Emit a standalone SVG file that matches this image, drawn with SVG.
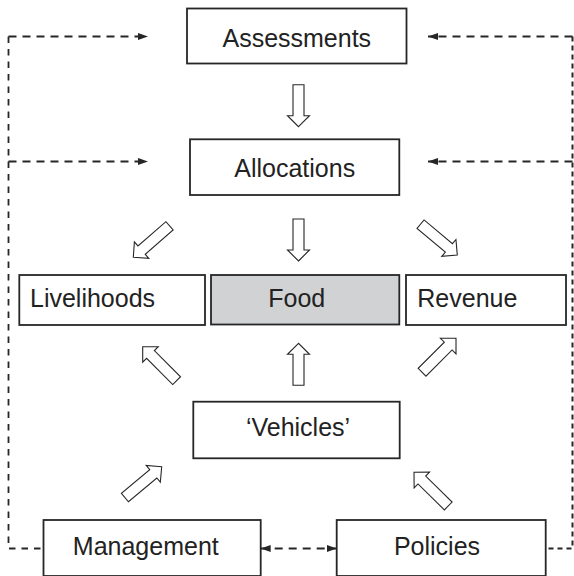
<svg xmlns="http://www.w3.org/2000/svg" xmlns:xlink="http://www.w3.org/1999/xlink" width="574" height="576" viewBox="0 0 574 576">
  <style>
    .box { fill: #ffffff; stroke: #262626; stroke-width: 1.8; }
    .food { fill: #d1d2d4; }
    .label { font-family: "Liberation Sans", Arial, Helvetica, sans-serif; font-size: 25px; fill: #222222; }
    .mid { text-anchor: middle; }
    .flow { fill: #ffffff; stroke: #262626; stroke-width: 1.1; stroke-linejoin: miter; }
    .dash { fill: none; stroke: #262626; stroke-width: 2; stroke-dasharray: 8 6; }
    .dash-v { fill: none; stroke: #262626; stroke-width: 1.8; stroke-dasharray: 6.5 6; }
    .dash-r { fill: none; stroke: #262626; stroke-width: 2; stroke-dasharray: 5 4; }
  </style>
  <defs>
    <!-- hollow block arrows, tip at the origin, pointing along +x -->
    <path id="block-short" d="M0,0 L-11,-11 L-11,-5.5 L-42,-5.5 L-42,5.5 L-11,5.5 L-11,11 Z"/>
    <path id="block-long" d="M0,0 L-11,-11 L-11,-5.5 L-48,-5.5 L-48,5.5 L-11,5.5 L-11,11 Z"/>
    <marker id="head" markerUnits="userSpaceOnUse" markerWidth="11" markerHeight="8" refX="10" refY="3.5" orient="auto-start-reverse">
      <path d="M0,0 L10,3.5 L0,7 Z" fill="#262626"/>
    </marker>
  </defs>

  <!-- feedback loops (dashed) -->
  <g id="connectors">
    <path class="dash-v" d="M8.5,36.5 V548.5 H43.5"/>
    <path class="dash" d="M8.5,36.5 H148" marker-end="url(#head)"/>
    <path class="dash" d="M8.5,161.5 H148" marker-end="url(#head)"/>
    <path class="dash-r" d="M572.5,36.5 V548.5 H545.7"/>
    <path class="dash" d="M572.5,36.5 H428" marker-end="url(#head)"/>
    <path class="dash" d="M572.5,161.5 H428" marker-end="url(#head)"/>
    <path class="dash" d="M260.7,548.5 H336.7" marker-start="url(#head)" marker-end="url(#head)"/>

    <!-- block arrows -->
    <use xlink:href="#block-short" class="flow" transform="translate(298.5,126.7) rotate(90)"/>
    <use xlink:href="#block-short" class="flow" transform="translate(298.5,261) rotate(90)"/>
    <use xlink:href="#block-short" class="flow" transform="translate(298.5,343.3) rotate(-90)"/>
    <use xlink:href="#block-long" class="flow" transform="translate(133.3,257.3) rotate(139)"/>
    <use xlink:href="#block-long" class="flow" transform="translate(457.3,255) rotate(40)"/>
    <use xlink:href="#block-long" class="flow" transform="translate(142.7,346.7) rotate(-135)"/>
    <use xlink:href="#block-long" class="flow" transform="translate(456,338.3) rotate(-45)"/>
    <use xlink:href="#block-long" class="flow" transform="translate(161.7,466.7) rotate(-40)"/>
    <use xlink:href="#block-long" class="flow" transform="translate(414,472.3) rotate(-135.5)"/>
  </g>

  <g id="assessments">
    <rect class="box" x="187" y="8.5" width="219.5" height="55"/>
    <text class="label mid" x="296.8" y="46.5">Assessments</text>
  </g>
  <g id="allocations">
    <rect class="box" x="190" y="139.3" width="209.3" height="55.7"/>
    <text class="label mid" x="294.7" y="177">Allocations</text>
  </g>
  <g id="livelihoods">
    <rect class="box" x="19.3" y="275" width="185.7" height="50"/>
    <text class="label" x="30" y="307">Livelihoods</text>
  </g>
  <g id="food">
    <rect class="box food" x="211" y="275" width="188.3" height="49.5"/>
    <text class="label mid" x="296.7" y="307">Food</text>
  </g>
  <g id="revenue">
    <rect class="box" x="406" y="275" width="160" height="50"/>
    <text class="label" x="417.3" y="307">Revenue</text>
  </g>
  <g id="vehicles">
    <rect class="box" x="193.3" y="401.7" width="206.4" height="56.6"/>
    <text class="label mid" x="298" y="436">‘Vehicles’</text>
  </g>
  <g id="management">
    <rect class="box" x="43.5" y="520" width="217.2" height="56"/>
    <text class="label mid" x="145.8" y="555">Management</text>
  </g>
  <g id="policies">
    <rect class="box" x="336.7" y="520" width="209" height="56"/>
    <text class="label mid" x="437" y="555">Policies</text>
  </g>
</svg>
